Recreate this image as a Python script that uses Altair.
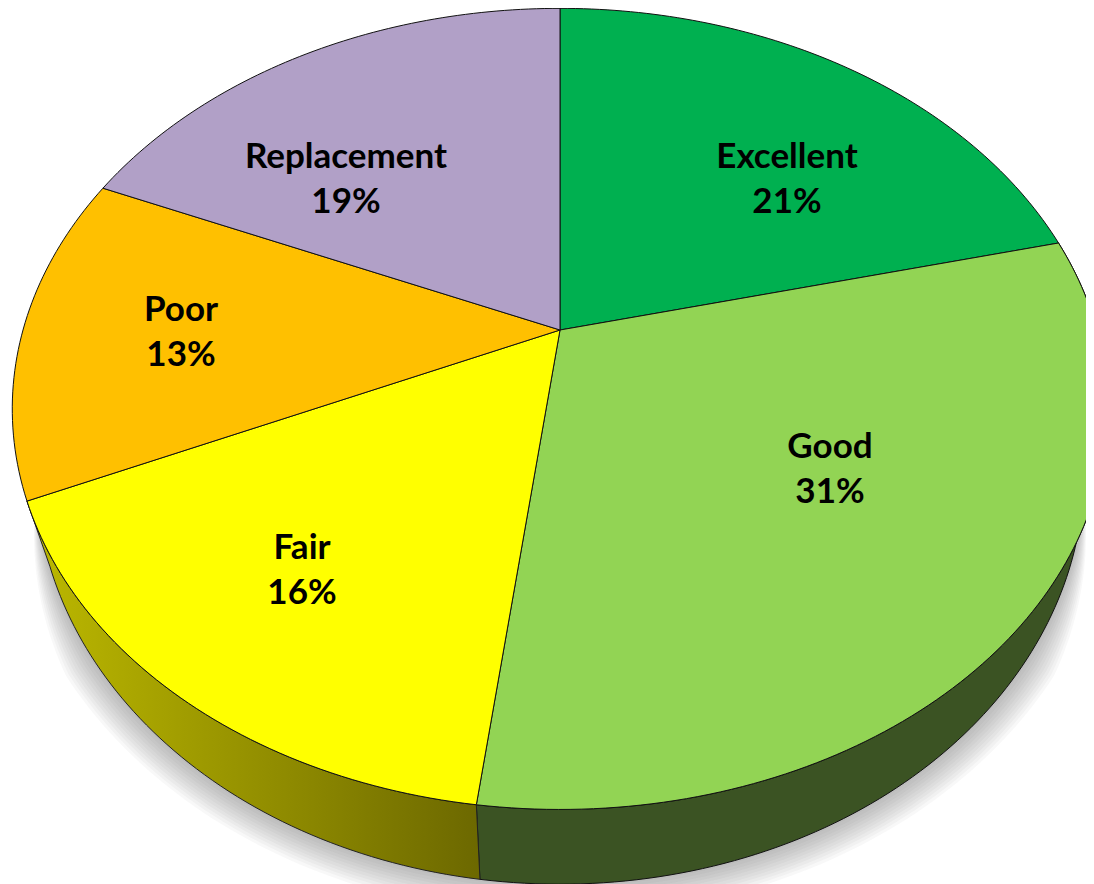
import math
import altair as alt
import pandas as pd

# --- chart values ---
categories = ["Excellent", "Good", "Fair", "Poor", "Replacement"]
shares = [21.2, 30.8, 16.3, 13.2, 18.5]
percent_labels = ["21%", "31%", "16%", "13%", "19%"]
top_colors = ["#00B050", "#92D454", "#FFFF00", "#FFC000", "#B1A0C7"]
label_x = [787, 830, 302, 181, 346]
label_y = [157, 447, 548, 310, 157]

# --- perspective of the tilted disc ---
CX, CY, A, B, K = 560, 330, 537, 385, 0.197
DROP, SHRINK = 60, 0.957


def top_rim(deg):
    t = math.radians(deg)
    u, v = math.sin(t), math.cos(t)
    d = 1 + K * v
    return CX + A * u / d, CY - B * v / d


def low_rim(deg):
    t = math.radians(deg)
    x, y = top_rim(deg)
    d = 1 + K * math.cos(t)
    return CX + (x - CX) * SHRINK, y + DROP / d


def sweep(a, b, n=None):
    n = n or max(2, int(abs(b - a)))
    return [a + (b - a) * i / n for i in range(n + 1)]


def frame(points):
    return pd.DataFrame(
        [{"px": p[0], "py": p[1], "i": i} for i, p in enumerate(points)]
    )


x_enc = alt.X("px:Q", axis=None, scale=alt.Scale(domain=[8, 1086], nice=False, zero=False))
y_enc = alt.Y("py:Q", axis=None, scale=alt.Scale(domain=[884, 8], nice=False, zero=False))


def polygon(points, **mark):
    return (
        alt.Chart(frame(points))
        .mark_line(clip=True, **mark)
        .encode(x=x_enc, y=y_enc, order=alt.Order("i:Q"))
    )


edges = [0]
for s in shares:
    edges.append(edges[-1] + s * 3.6)

layers = []

# soft shadow below the disc: stacked translucent outlines
for e in [32, 29, 26, 23, 20, 17, 14, 11, 8, 5, 2]:
    pts = []
    for deg in sweep(60, 300, 240):
        x, y = low_rim(deg)
        v = math.cos(math.radians(deg))
        w = max(0.0, min(1.0, (-v - 0.25) / 0.35))
        nx, ny = x - CX, y - (CY + 80)
        r = math.hypot(nx, ny)
        pts.append((x + e * w * nx / r, y + e * w * ny / r))
    pts.append((CX, CY))
    pts.append(pts[0])
    layers.append(polygon(pts, fill="#444444", fillOpacity=0.04, stroke="#ffffff", strokeOpacity=0))

# side wall of the front slices
good_a, good_b = edges[1], edges[2]
fair_a, fair_b = edges[2], edges[3]


def wall(a, b):
    up = [top_rim(d) for d in sweep(a, b)]
    dn = [low_rim(d) for d in sweep(b, a)]
    pts = up + dn
    pts.append(pts[0])
    return pts


layers.append(polygon(wall(good_a, good_b), fill="#3B5323", stroke="#111111", strokeWidth=1))
layers.append(
    polygon(
        wall(fair_a, fair_b),
        fill=alt.Gradient(
            gradient="linear",
            x1=0, y1=0, x2=1, y2=0,
            stops=[
                alt.GradientStop(color="#BDB900", offset=0),
                alt.GradientStop(color="#6C6800", offset=1),
            ],
        ),
        stroke="#222222",
        strokeWidth=1,
    )
)

# top face
for k, col in enumerate(top_colors):
    pts = [(CX, CY)] + [top_rim(d) for d in sweep(edges[k], edges[k + 1])] + [(CX, CY)]
    layers.append(polygon(pts, fill=col, stroke="#111111", strokeWidth=1))

labels = pd.DataFrame(
    {
        "px": label_x,
        "py": label_y,
        "txt": [f"{c}\n{p}" for c, p in zip(categories, percent_labels)],
    }
)
layers.append(
    alt.Chart(labels)
    .mark_text(
        font="Lato",
        fontSize=35,
        fontWeight="bold",
        color="#000000",
        lineBreak="\n",
        lineHeight=45,
        align="center",
        baseline="middle",
    )
    .encode(x=x_enc, y=y_enc, text="txt:N")
)

chart = (
    alt.layer(*layers)
    .properties(width=1078, height=876, padding=0, autosize=alt.AutoSizeParams(type="none"))
    .configure_view(stroke=None)
)
chart.save("out.html", embed_options={"renderer": "svg", "actions": False})
